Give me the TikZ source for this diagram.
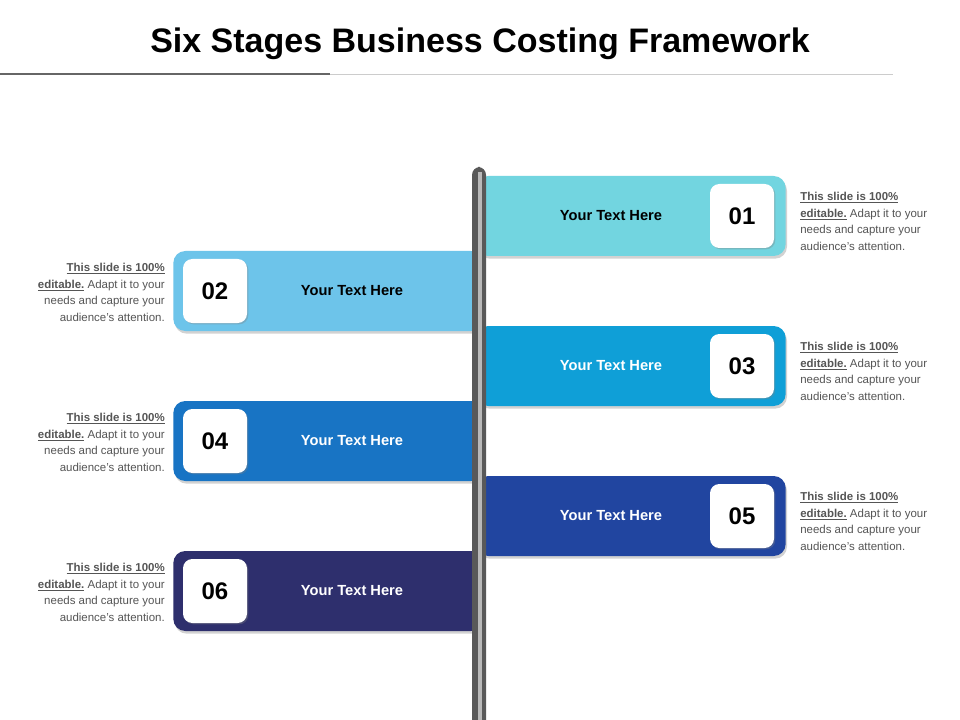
\documentclass[tikz,border=0pt]{standalone}
\usepackage{fontspec}
\setmainfont{Liberation Sans}
\usetikzlibrary{positioning, shadows}

\definecolor{stA}{HTML}{72D5E0}
\definecolor{stB}{HTML}{6DC4EA}
\definecolor{stC}{HTML}{0F9FD7}
\definecolor{stD}{HTML}{1874C4}
\definecolor{stE}{HTML}{2145A0}
\definecolor{stF}{HTML}{2E2F6D}
\definecolor{desc}{HTML}{555555}

\tikzset{
  flag/.style={rectangle, rounded corners=9pt, minimum width=232pt, minimum height=60pt, inner sep=0pt,
    drop shadow={shadow xshift=1pt, shadow yshift=-2pt, opacity=0.35}},
  numbox/.style={rectangle, fill=white, rounded corners=7pt, minimum size=48pt, inner sep=0pt,
    font=\fontsize{18}{20}\selectfont\bfseries,
    drop shadow={shadow xshift=1pt, shadow yshift=-1pt, opacity=0.35}},
  label/.style={font=\fontsize{11}{13}\selectfont\bfseries},
  desctext/.style={font=\fontsize{8.6}{12.4}\selectfont, text=desc, inner sep=0pt},
}
\newcommand{\editline}{\underline{\textbf{This slide is 100\%}}\\\underline{\textbf{editable.}} Adapt it to your\\needs and capture your\\audience's attention.}

\begin{document}
\begin{tikzpicture}[x=0.75pt, y=-0.75pt]
\useasboundingbox (0,0) rectangle (960,720);
\fill[white] (0,0) rectangle (960,720);

% title
\node[font=\fontsize{25.5}{28}\selectfont\bfseries] (title) at (480,44) {Six Stages Business Costing Framework};
\draw[line width=1.5pt, gray!80!black] (0,74) -- (330,74);
\draw[line width=0.6pt, gray!40] (330,74) -- (893,74);

% right flags
\foreach \n/\y/\col/\tc in {01/216/stA/black, 03/366/stC/white, 05/516/stE/white}{
  \node[flag, fill=\col] (flag\n) at (631,\y) {};
  \node[numbox] (num\n) at (742,\y) {\n};
  \node[label, text=\tc] (lab\n) at (611,\y) {Your Text Here};
  \node[desctext, align=left, anchor=north west] (desc\n) at (800,\y-24) {\editline};
}
% left flags
\foreach \n/\y/\col/\tc in {02/291/stB/black, 04/441/stD/white, 06/591/stF/white}{
  \node[flag, fill=\col] (flag\n) at (328,\y) {};
  \node[numbox] (num\n) at (215,\y) {\n};
  \node[label, text=\tc] (lab\n) at (352,\y) {Your Text Here};
  \node[desctext, align=right, anchor=north east] (desc\n) at (165,\y-28) {\editline};
}

% pole
\fill[gray!70!black, rounded corners=6pt] (472,167) rectangle (486,730);
\fill[gray!55] (478,172) rectangle (482,720);
\end{tikzpicture}
\end{document}
